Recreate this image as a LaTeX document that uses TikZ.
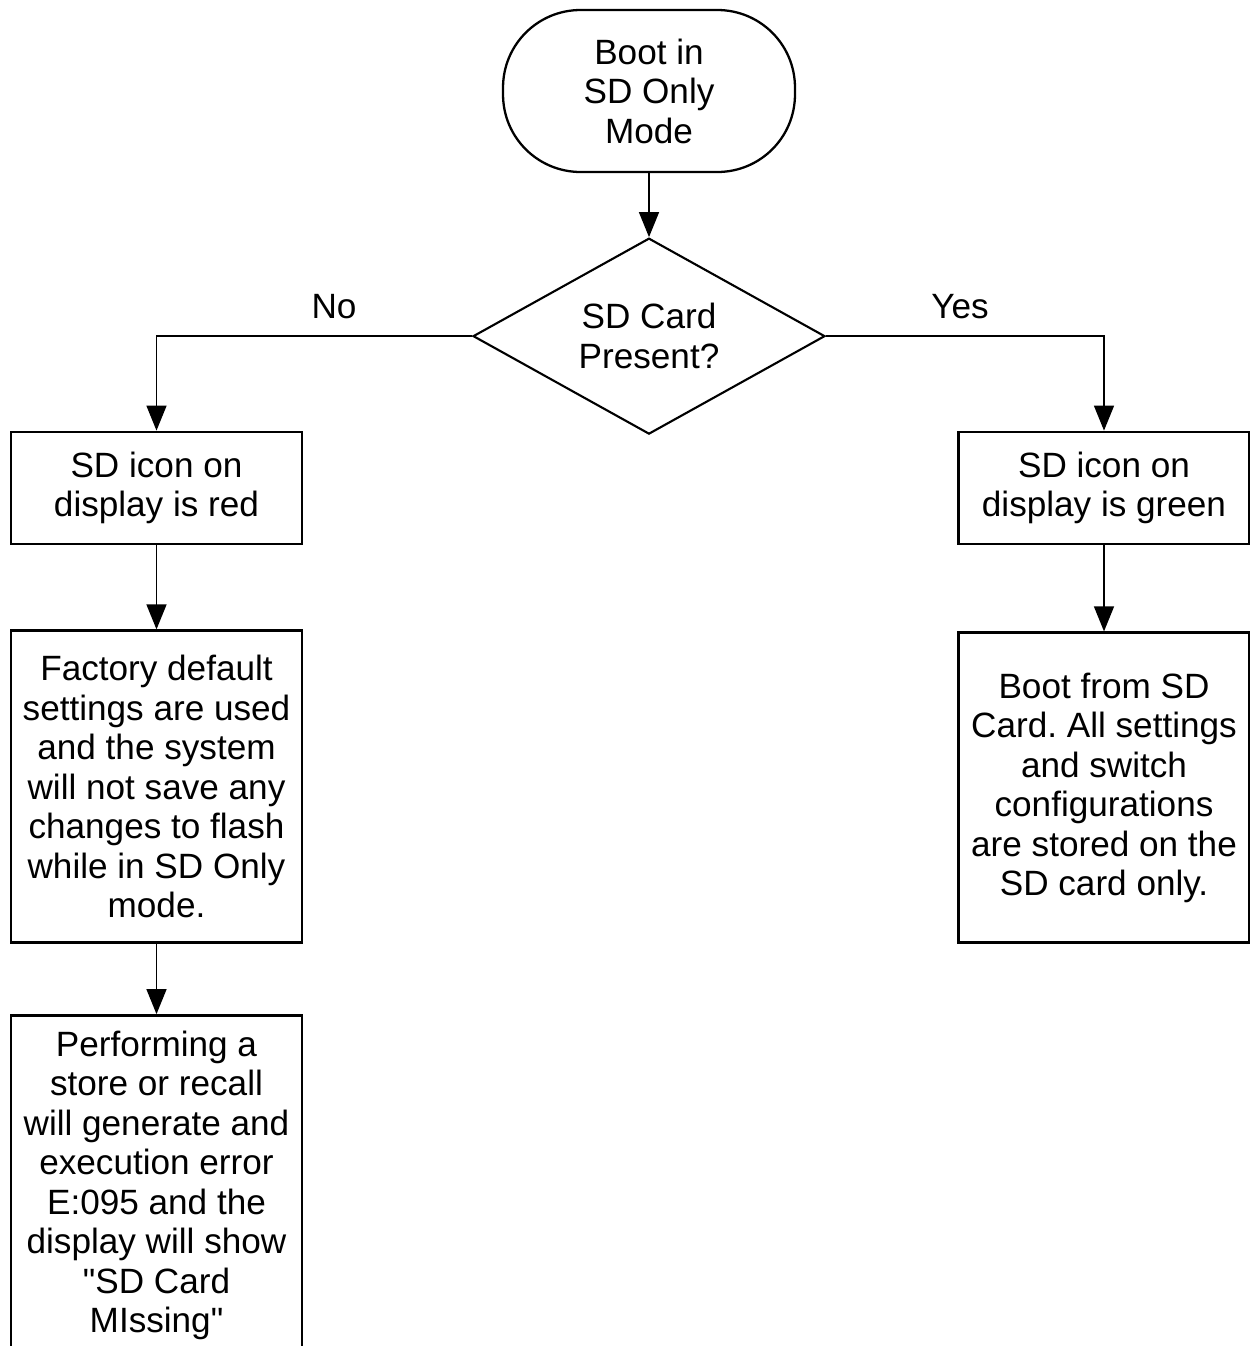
\documentclass[tikz,border=0pt]{standalone}
\usepackage{fontspec}
\newfontfamily\flowfont{Liberation Sans}
\usetikzlibrary{arrows.meta,positioning,shapes.geometric}

\begin{document}
\begin{tikzpicture}[x=0.02cm, y=-0.02cm, node distance=1.68cm,
  every node/.style={font=\flowfont\fontsize{20}{22.5}\selectfont\frenchspacing, align=center},
  term/.style={draw,line width=1.3pt,rounded corners=1.55cm,minimum width=5.84cm,minimum height=3.24cm,inner sep=0pt},
  decision/.style={draw,diamond,aspect=1.8,line width=1.2pt,minimum width=7.04cm,minimum height=3.92cm,inner sep=0pt},
  box/.style={draw,line width=1.6pt,minimum width=5.82cm,inner sep=0pt},
  arr/.style={-{Triangle[length=5mm,width=4mm]},line width=0.8pt}]
\useasboundingbox (0,0) rectangle (1250,1346);
\clip (0,0) rectangle (1250,1346);
\node[term] (start) at (649,91) {Boot in\\SD Only\\Mode};
\node[decision,below=1.28cm of start] (card) {SD Card\\Present?};
\node (no) at (334,307) {No};
\node (yes) at (960,307) {Yes};
% no card
\node[box,minimum height=2.24cm] (red) at (156.5,488) {SD icon on\\display is red};
\node[box,minimum height=6.24cm,below=of red] (factory) {Factory default\\settings are used\\and the system\\will not save any\\changes to flash\\while in SD Only\\mode.};
\node[box,minimum height=6.8cm,below=1.4cm of factory] (error) {Performing a\\store or recall\\will generate and\\execution error\\E:095 and the\\display will show\\"SD Card\\MIssing"};
% card present
\node[box,minimum height=2.24cm] (green) at (1104,488) {SD icon on\\display is green};
\node[box,minimum height=6.2cm,below=1.72cm of green] (sdboot) {Boot from SD\\Card. All settings\\and switch\\configurations\\are stored on the\\SD card only.};
\draw[arr] (start) -- (card);
\draw[arr] (card.west) -| (red);
\draw[arr] (card.east) -| (green);
\draw[arr] (red) -- (factory);
\draw[arr] (factory) -- (error);
\draw[arr] (green) -- (sdboot);
\end{tikzpicture}
\end{document}
